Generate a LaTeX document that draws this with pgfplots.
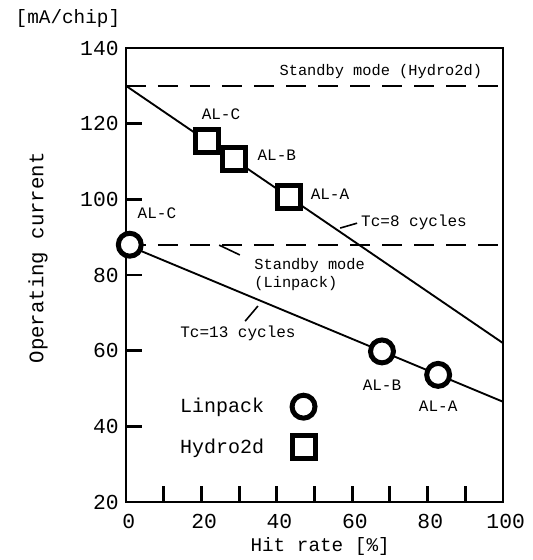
\documentclass[border=0pt]{standalone}
\usepackage{fontspec}
\setmainfont{Liberation Mono}
\usepackage{pgfplots}
\pgfplotsset{compat=1.18}
\newcommand\fs[1]{\fontsize{#1}{#1}\selectfont}
\begin{document}
\begin{tikzpicture}
\begin{axis}[
  name=ax, scale only axis, width=282.75pt, height=340.5pt,
  xmin=0, xmax=100, ymin=20, ymax=140,
  xtick={0,20,...,100}, ytick={20,40,...,140},
  minor x tick num=1,
  tick align=inside, xtick pos=bottom, ytick pos=left,
  major tick length=12pt, minor tick length=12pt,
  every tick/.style={black, line width=2.2pt},
  axis line style={line width=2.2pt},
  ticklabel style={font=\fs{16pt}},
  /pgf/number format/assume math mode=true,
  xticklabel style={yshift=-6pt, xshift=2pt}, yticklabel style={xshift=-2pt},
  clip=false,
  legend plot pos=right,
  legend style={at={(axis cs:12.5,49)}, anchor=north west, draw=none, fill=none,
    font=\fs{15pt}, row sep=13pt, column sep=19pt},
  legend cell align=left,
]
% standby levels
\addplot[black, line width=1.8pt, dash pattern=on 15pt off 9pt, forget plot] coordinates {(0,130) (100,130)};
\addplot[black, line width=1.8pt, dash pattern=on 15pt off 9pt, forget plot] coordinates {(0,88) (100,88)};
% Tc lines
\addplot[black, line width=1.4pt, forget plot] coordinates {(0,130) (100,62)};
\addplot[black, line width=1.4pt, forget plot] coordinates {(0,88) (100,46.5)};
% Linpack
\addplot[only marks, mark=*, mark size=8.6pt, line width=3.75pt, draw=black, fill=white]
  coordinates {(1,88) (67.9,59.8) (82.8,53.6)};
% Hydro2d
\addplot[only marks, mark=square*, mark size=8.6pt, line width=3.75pt, draw=black, fill=white]
  coordinates {(21.6,115.3) (28.6,110.6) (43.2,100.6)};
\legend{Linpack,Hydro2d}

\node[font=\fs{14.5pt}] at (axis cs:-15.4,147.9) {[mA/chip]};
\node[font=\fs{15.5pt}, rotate=90] at (axis cs:-23.3,84.5) {Operating current};
\node[font=\fs{14.5pt}] at (axis cs:51.5,8.2) {Hit rate [\%]};

\node[font=\fs{11.5pt}] at (axis cs:67.6,133.7) {Standby mode (Hydro2d)};
\node[font=\fs{12pt}] at (axis cs:25.2,122.6) {AL-C};
\node[font=\fs{12pt}] at (axis cs:40,111.7) {AL-B};
\node[font=\fs{12pt}] at (axis cs:54.1,101.4) {AL-A};
\node[font=\fs{12pt}] at (axis cs:76.4,94) {Tc=8 cycles};
\draw[line width=1.2pt] (axis cs:56.8,92.4) -- (axis cs:61.3,93.7);
\node[font=\fs{11.5pt}, align=left, anchor=west, inner sep=0pt] at (axis cs:34,80) {Standby mode\\[2pt](Linpack)};
\draw[line width=1.2pt] (axis cs:24.7,87.9) -- (axis cs:30.2,85.3);
\node[font=\fs{12pt}] at (axis cs:29.7,64.7) {Tc=13 cycles};
\draw[line width=1.2pt] (axis cs:31.6,67.8) -- (axis cs:35,71.8);
\node[font=\fs{12pt}] at (axis cs:67.9,50.9) {AL-B};
\node[font=\fs{12pt}] at (axis cs:82.8,45.4) {AL-A};
\node[font=\fs{12pt}] at (axis cs:8.2,96.4) {AL-C};
\end{axis}
\pgfresetboundingbox
\path[use as bounding box] ([xshift=-94.5pt,yshift=-43.5pt]ax.south west) rectangle ([xshift=21.75pt,yshift=36pt]ax.north east);
\end{tikzpicture}
\end{document}
